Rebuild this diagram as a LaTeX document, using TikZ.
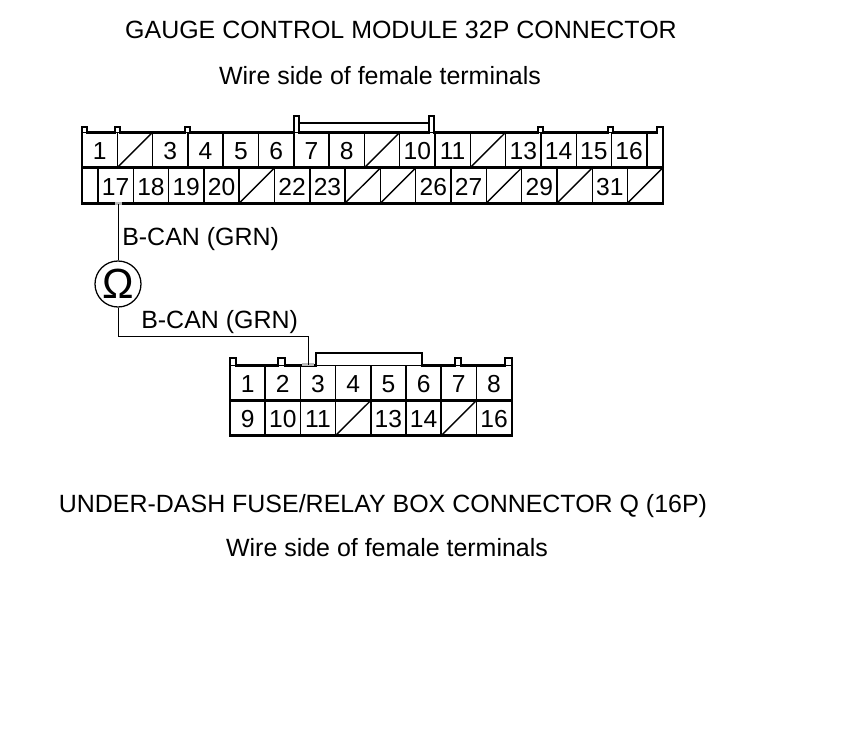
\documentclass[tikz,border=0pt]{standalone}
\usepackage{fontspec}
\setmainfont{Liberation Sans}
\usetikzlibrary{positioning}
\tikzstyle{cell} = [
    rectangle, text centered,
    minimum width=0.8825cm,
    minimum height=0.88cm,
    inner sep=0pt,
    text height=14pt,
    text depth=0pt,
    line width=1pt,
    draw=black,
    font=\fontsize{17.5}{20}\selectfont,
]
\tikzstyle{caption} = [
    inner sep=0pt,
    font=\fontsize{17.75}{20}\selectfont,
]
\tikzstyle{shell} = [line width=2pt, line join=miter]
\tikzstyle{slash} = [line width=1pt]
\tikzstyle{wire} = [line width=0.7pt]
\tikzstyle{joint} = [line width=2pt, draw=gray!55]

\begin{document}
\begin{tikzpicture}[x=0.025cm,y=-0.025cm]
    \useasboundingbox (0,0) rectangle (860,735);

    % titles
    \node (gaugetitle) at (401,30) [caption] {GAUGE CONTROL MODULE 32P CONNECTOR};
    \node (gaugeside) at (380,76) [caption] {Wire side of female terminals};
    \node (boxtitle) at (383,506) [caption] {UNDER-DASH FUSE/RELAY BOX CONNECTOR Q (16P)};
    \node (boxside) at (387,548) [caption] {Wire side of female terminals};

    % gauge connector cells
    \foreach \lab [count=\i, evaluate=\i as \x using 64.35+35.3*\i] in {1,,3,4,5,6,7,8,,10,11,,13,14,15,16} {
        \node (gtop\i) at (\x, 150) [cell] {\lab};
    }
    \foreach \lab [count=\i, evaluate=\i as \x using 80.35+35.3*\i] in {17,18,19,20,,22,23,,,26,27,,29,,31,} {
        \node (gbot\i) at (\x, 185.5) [cell] {\lab};
    }
    \foreach \i in {2,9,12} {
        \draw [slash] (gtop\i.south west) -- (gtop\i.north east);
    }
    \foreach \i in {5,8,9,12,14,16} {
        \draw [slash] (gbot\i.south west) -- (gbot\i.north east);
    }

    % gauge connector shell
    \draw [shell] (82,203.5) -- (82,127) -- (87,127) -- (87,132.5) -- (115,132.5) -- (115,127) -- (120,127) -- (120,132.5)
        -- (185,132.5) -- (185,127) -- (190,127) -- (190,132.5) -- (294,132.5) -- (294,116) -- (299,116) -- (299,132.5)
        -- (429,132.5) -- (429,116) -- (434,116) -- (434,132.5) -- (538,132.5) -- (538,127) -- (543,127) -- (543,132.5)
        -- (608,132.5) -- (608,127) -- (613,127) -- (613,132.5) -- (657,132.5) -- (657,127) -- (663,127) -- (663,203.5) -- cycle;
    \draw [shell] (82,167.5) -- (663,167.5);
    \draw [shell] (299,123) -- (429,123);

    % box connector cells
    \foreach \lab [count=\i, evaluate=\i as \x using 212.4+35.2*\i] in {1,2,3,4,5,6,7,8} {
        \node (qtop\i) at (\x, 383) [cell] {\lab};
    }
    \foreach \lab [count=\i, evaluate=\i as \x using 212.4+35.2*\i] in {9,10,11,,13,14,,16} {
        \node (qbot\i) at (\x, 418) [cell] {\lab};
    }
    \foreach \i in {4,7} {
        \draw [slash] (qbot\i.south west) -- (qbot\i.north east);
    }

    % box connector shell
    \draw [shell] (230,435.5) -- (230,358) -- (236,358) -- (236,365.5) -- (278,365.5) -- (278,358) -- (285,358) -- (285,365.5)
        -- (316,365.5) -- (316,353) -- (422,353) -- (422,365.5) -- (455,365.5) -- (455,358) -- (461,358) -- (461,365.5)
        -- (505,365.5) -- (505,358) -- (512,358) -- (512,435.5) -- cycle;
    \draw [shell] (230,400.5) -- (512,400.5);

    % meter
    \node (meter) at (118,284) [circle, draw, line width=0.9pt, minimum size=1.15cm, inner sep=0pt,
        font=\fontsize{30}{30}\selectfont] {Ω};

    % wires
    \draw [joint] ([xshift=-0.07cm]meter.north |- gbot1.south) -- ([xshift=0.09cm]meter.north |- gbot1.south);
    \draw [joint] ([xshift=0.05cm]qtop3.north west) -- ([xshift=0.35cm]qtop3.north west);
    \draw [wire] (meter.north) -- (meter.north |- gbot1.south);
    \draw [wire] (meter.south) |- ([xshift=0.225cm,yshift=0.7cm]qtop3.north west) -- ([xshift=0.225cm]qtop3.north west);

    % wire labels
    \node (wireupper) at (122,239) [caption, anchor=west] {B-CAN (GRN)};
    \node (wirelower) at (141,322) [caption, anchor=west] {B-CAN (GRN)};
\end{tikzpicture}
\end{document}
